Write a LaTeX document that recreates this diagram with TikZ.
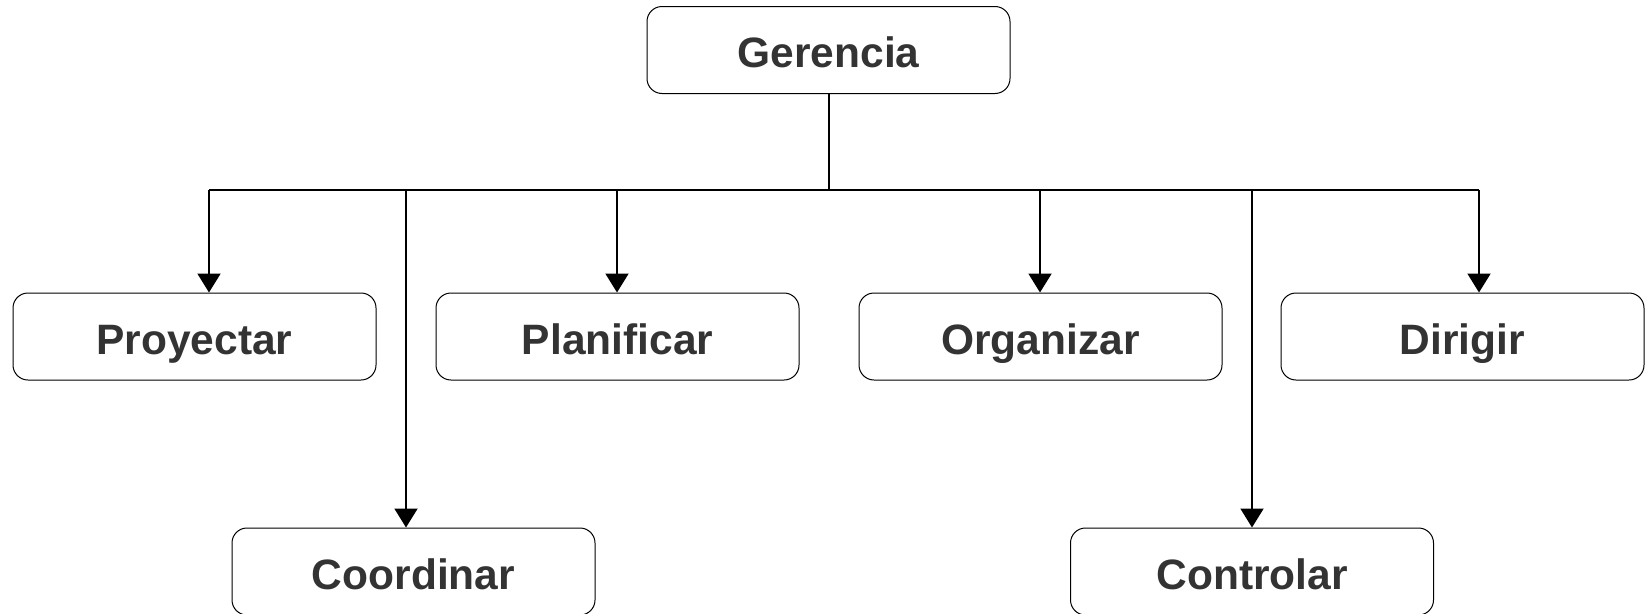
\documentclass[tikz,border=0pt]{standalone}
\usepackage{fontspec}
\setmainfont{Liberation Sans}
\usetikzlibrary{arrows.meta}
\definecolor{txt}{HTML}{333333}
\tikzset{
  box/.style={draw=black, line width=1pt, rounded corners=15pt, minimum width=363pt, minimum height=87pt,
    inner sep=0pt, text height=35pt, text depth=0pt,
    font=\fontsize{42.5}{50}\selectfont\bfseries, text=txt},
  conn/.style={draw=black, line width=2pt},
  arr/.style={conn, -{Triangle[width=23pt,length=19pt]}}
}
\begin{document}
\begin{tikzpicture}[x=1pt,y=-1pt]
\useasboundingbox (0,0) rectangle (1646,613);
\node[box] (G) at (828.5,50) {Gerencia};
\node[box] (P) at (194.5,336.5) {Proyectar};
\node[box] (L) at (617.5,336.5) {Planificar};
\node[box] (O) at (1040.5,336.5) {Organizar};
\node[box] (D) at (1462.5,336.5) {Dirigir};
\node[box] (C) at (413.5,571.5) {Coordinar};
\node[box] (K) at (1252,571.5) {Controlar};
\coordinate (bus) at (828.5,190);
\coordinate (jP) at (209,190);
\coordinate (jC) at (406,190);
\coordinate (jL) at (617,190);
\coordinate (jO) at (1040,190);
\coordinate (jK) at (1252,190);
\coordinate (jD) at (1479,190);
\draw[conn] (G.south) -- (bus);
\draw[conn] (jP) -- (jD);
\draw[arr] (jP) -- (P.north -| jP);
\draw[arr] (jC) -- (C.north -| jC);
\draw[arr] (jL) -- (L.north -| jL);
\draw[arr] (jO) -- (O.north -| jO);
\draw[arr] (jK) -- (K.north -| jK);
\draw[arr] (jD) -- (D.north -| jD);
\end{tikzpicture}
\end{document}
